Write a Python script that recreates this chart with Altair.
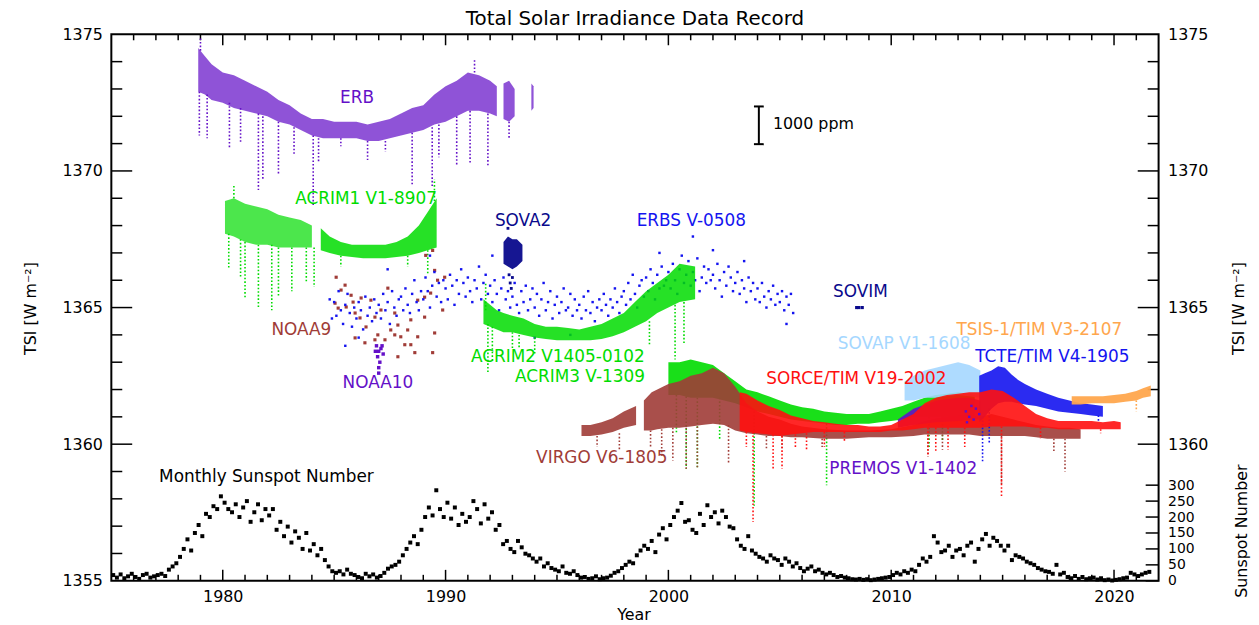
import altair as alt
import pandas as pd

# ---------------- Monthly sunspot number (sampled every 2 months, 1975.0 -> 2021.6) ----------------
sunspot = [
    18, 10, 20, 8, 14, 22,        # 1975
    12, 6, 18, 22, 10, 14,        # 1976
    18, 22, 15, 35, 45, 55,       # 1977
    75, 100, 130, 95, 150, 175,   # 1978
    140, 210, 200, 234, 225, 265, # 1979
    245, 225, 215, 240, 200, 230, # 1980
    250, 185, 215, 240, 190, 225, # 1981
    205, 225, 160, 185, 140, 170, # 1982
    120, 155, 135, 100, 150, 95,  # 1983
    115, 80, 100, 65, 45, 30,     # 1984
    25, 30, 20, 35, 22, 18,       # 1985
    12, 8, 22, 14, 20, 10,        # 1986
    15, 25, 38, 45, 50, 60,       # 1987
    80, 100, 120, 140, 115, 160,  # 1988
    200, 230, 205, 284, 225, 200, # 1989
    245, 195, 230, 175, 210, 185, # 1990
    200, 250, 225, 180, 240, 195, # 1991
    215, 160, 175, 115, 125, 100, # 1992
    90, 125, 105, 85, 80, 70,     # 1993
    60, 70, 45, 55, 40, 35,       # 1994
    30, 45, 25, 22, 30, 18,       # 1995
    10, 12, 6, 8, 14, 5,          # 1996
    8, 10, 16, 25, 30, 40,        # 1997
    50, 60, 55, 80, 95, 110,      # 1998
    100, 125, 90, 145, 165, 130,  # 1999
    175, 200, 220, 244, 185, 190, # 2000
    160, 150, 210, 175, 237, 200, # 2001
    215, 180, 220, 200, 170, 165, # 2002
    130, 110, 100, 140, 95, 85,   # 2003
    75, 70, 60, 80, 70, 65,       # 2004
    50, 70, 60, 45, 55, 40,       # 2005
    30, 38, 45, 30, 35, 25,       # 2006
    20, 25, 18, 12, 15, 10,       # 2007
    8, 5, 4, 6, 3, 5,             # 2008
    2, 4, 6, 8, 10, 12,           # 2009
    18, 25, 20, 30, 25, 35,       # 2010
    30, 50, 70, 60, 75, 140,      # 2011
    120, 90, 95, 110, 75, 95,     # 2012
    100, 80, 110, 120, 60, 100,   # 2013
    130, 147, 110, 135, 125, 110, # 2014
    95, 110, 65, 80, 75, 70,      # 2015
    60, 55, 50, 40, 35, 30,       # 2016
    28, 22, 50, 20, 25, 12,       # 2017
    8, 15, 6, 12, 5, 8,           # 2018
    10, 4, 8, 2, 4, 1,            # 2019
    3, 5, 8, 10, 25, 20,          # 2020
    15, 20, 25, 28,               # 2021
]
sunspot_t = [1975 + (i + 0.5) / 6 for i in range(len(sunspot))]

# ---------------- TSI instrument records: core envelopes (year, low, high) ----------------
erb1_t = [1978.9, 1979.2, 1979.5, 1980.0, 1980.5, 1981.0, 1981.5, 1982.0, 1982.5, 1983.0,
          1983.5, 1984.0, 1984.5, 1985.0, 1985.5, 1986.0, 1986.5, 1987.0, 1987.5, 1988.0,
          1988.5, 1989.0, 1989.5, 1990.0, 1990.5, 1991.0, 1991.5, 1992.0, 1992.3]
erb1_hi = [1374.5, 1374.2, 1373.9, 1373.6, 1373.5, 1373.3, 1373.1, 1372.9, 1372.6, 1372.4,
           1372.1, 1371.9, 1371.9, 1371.8, 1371.8, 1371.8, 1371.7, 1371.8, 1371.9, 1372.1,
           1372.3, 1372.4, 1372.8, 1373.1, 1373.3, 1373.6, 1373.5, 1373.3, 1373.1]
erb1_lo = [1372.9, 1372.8, 1372.6, 1372.5, 1372.3, 1372.2, 1372.1, 1372.0, 1371.8, 1371.7,
           1371.5, 1371.3, 1371.2, 1371.2, 1371.2, 1371.2, 1371.1, 1371.1, 1371.2, 1371.3,
           1371.4, 1371.5, 1371.7, 1371.8, 1372.0, 1372.2, 1372.2, 1372.1, 1372.0]
erb2_t = [1992.6, 1992.85, 1993.1]
erb2_hi = [1373.2, 1373.3, 1373.0]
erb2_lo = [1371.9, 1371.8, 1372.0]
erb3_t = [1993.85, 1993.95]
erb3_hi = [1373.2, 1373.1]
erb3_lo = [1372.2, 1372.3]
erb_dips = [(1978.95, 1372.9, 1371.3), (1979.3, 1372.8, 1371.2), (1980.3, 1372.5, 1370.8),
            (1980.8, 1372.3, 1371.0), (1981.6, 1372.1, 1369.3), (1981.8, 1372.0, 1369.7),
            (1982.5, 1371.8, 1369.9), (1983.2, 1371.6, 1370.6), (1984.06, 1371.3, 1368.7),
            (1984.3, 1371.2, 1370.3), (1985.3, 1371.2, 1370.9), (1986.5, 1371.1, 1370.4),
            (1987.3, 1371.1, 1370.7), (1988.5, 1371.4, 1369.5), (1989.4, 1371.6, 1369.4),
            (1989.7, 1371.7, 1370.5), (1990.5, 1372.0, 1370.2), (1991.1, 1372.2, 1370.3),
            (1991.9, 1372.1, 1370.2), (1992.85, 1371.8, 1371.2), (1979.0, 1374.4, 1374.9),
            (1991.3, 1373.6, 1374.1)]

acrim1a_t = [1980.1, 1980.5, 1981.0, 1981.5, 1982.0, 1982.5, 1983.0, 1983.5, 1984.0]
acrim1a_hi = [1368.9, 1369.0, 1368.8, 1368.7, 1368.6, 1368.4, 1368.3, 1368.2, 1368.0]
acrim1a_lo = [1367.7, 1367.6, 1367.4, 1367.3, 1367.3, 1367.2, 1367.2, 1367.2, 1367.2]
acrim1b_t = [1984.4, 1984.8, 1985.3, 1985.8, 1986.3, 1986.8, 1987.3, 1987.8, 1988.3, 1988.8, 1989.2, 1989.6]
acrim1b_hi = [1367.9, 1367.6, 1367.4, 1367.3, 1367.3, 1367.3, 1367.3, 1367.4, 1367.6, 1368.0, 1368.5, 1369.0]
acrim1b_lo = [1367.1, 1367.0, 1366.9, 1366.85, 1366.8, 1366.8, 1366.8, 1366.85, 1366.9, 1367.0, 1367.1, 1367.2]
acrim1_dips = [(1980.27, 1367.7, 1366.4), (1980.8, 1367.5, 1366.1), (1981.0, 1367.4, 1365.3),
               (1981.6, 1367.3, 1365.0), (1982.2, 1367.3, 1364.9), (1982.5, 1367.2, 1365.4),
               (1983.1, 1367.2, 1365.6), (1983.75, 1367.2, 1365.9), (1984.1, 1367.2, 1365.75),
               (1985.3, 1366.9, 1366.5), (1988.3, 1366.9, 1366.5), (1989.2, 1367.1, 1366.2),
               (1980.5, 1369.0, 1369.5), (1989.5, 1368.9, 1369.7)]

noaa9_t = [1985.09, 1985.49, 1985.31, 1985.76, 1985.04, 1985.18, 1985.54, 1985.85, 1986.21, 1986.65,
           1985.94, 1986.16, 1986.43, 1986.83, 1987.10, 1987.41, 1987.72, 1987.86, 1987.54, 1987.72,
           1987.99, 1988.30, 1988.44, 1988.75, 1989.06, 1989.33, 1989.64, 1989.96, 1989.51, 1989.11,
           1989.42, 1989.87, 1989.06, 1989.51, 1988.44, 1988.62, 1989.42, 1986.96, 1986.83, 1986.38,
           1985.94, 1987.28, 1988.17, 1988.75, 1987.86]
noaa9_v = [1366.11, 1365.82, 1365.64, 1365.45, 1365.16, 1364.98, 1365.02, 1365.20, 1365.35, 1365.27,
           1364.80, 1364.62, 1364.29, 1364.65, 1364.91, 1365.71, 1364.80, 1364.36, 1364.18, 1364.00,
           1363.93, 1364.18, 1364.55, 1365.27, 1365.38, 1365.53, 1366.00, 1366.11, 1366.36, 1366.91,
           1367.09, 1364.91, 1364.65, 1364.07, 1363.64, 1363.35, 1363.35, 1364.00, 1363.82, 1363.71,
           1363.89, 1363.82, 1363.64, 1363.93, 1363.20]

noaa10_t = [1986.9, 1987.0, 1987.1, 1987.2, 1986.95, 1987.05, 1987.0, 1987.0, 1987.15, 1986.85]
noaa10_v = [1363.6, 1363.4, 1363.5, 1363.3, 1363.2, 1363.0, 1362.8, 1362.6, 1363.6, 1363.4]

# ERBS: samples every 0.1 yr starting 1984.8
erbs_start = 1984.8
erbs_v = [
    1365.3, 1364.6,
    1365.2, 1364.7, 1365.6, 1364.9, 1364.4, 1365.1, 1365.5, 1364.8, 1364.3, 1365.0,
    1364.6, 1365.2, 1364.9, 1364.2, 1365.4, 1364.7, 1365.0, 1364.5, 1365.3, 1364.8,
    1365.1, 1364.6, 1365.5, 1364.9, 1365.2, 1364.4, 1365.6, 1365.0, 1364.7, 1365.3,
    1365.4, 1364.9, 1365.7, 1365.1, 1364.8, 1365.5, 1366.0, 1365.2, 1364.9, 1365.6,
    1365.3, 1366.1, 1365.6, 1365.0, 1365.8, 1366.3, 1365.4, 1365.9, 1365.2, 1366.0,
    1365.7, 1365.3, 1366.2, 1365.8, 1365.1, 1366.0, 1365.5, 1366.4, 1365.9, 1365.4,
    1366.1, 1365.6, 1365.2, 1366.0, 1365.7, 1366.5, 1365.3, 1365.9, 1366.2, 1365.5,
    1365.8, 1365.2, 1366.0, 1365.5, 1364.9, 1365.7, 1366.1, 1365.3, 1365.6, 1365.0,
    1365.4, 1365.9, 1365.1, 1364.8, 1365.6, 1365.2, 1365.8, 1364.9, 1365.3, 1365.7,
    1365.0, 1365.5, 1364.7, 1365.3, 1365.9, 1364.9, 1365.2, 1365.6, 1364.6, 1365.1,
    1365.4, 1364.8, 1365.2, 1365.7, 1364.9, 1365.0, 1365.5, 1364.7, 1365.3, 1364.9,
    1365.1, 1364.6, 1365.4, 1364.9, 1365.6, 1364.8, 1365.2, 1364.5, 1365.0, 1365.3,
    1364.9, 1365.5, 1365.1, 1364.7, 1365.3, 1365.0, 1365.7, 1365.2, 1364.8, 1365.4,
    1365.6, 1365.1, 1365.9, 1365.3, 1366.2, 1365.5, 1365.0, 1365.8, 1366.0, 1365.4,
    1366.1, 1365.6, 1366.4, 1365.9, 1365.3, 1366.2, 1365.7, 1366.5, 1365.8, 1366.0,
    1366.3, 1365.7, 1366.6, 1366.0, 1365.5, 1366.4, 1366.9, 1365.9, 1366.2, 1366.7,
    1365.8, 1366.3, 1366.0, 1366.8, 1365.6, 1366.1, 1366.5, 1365.9, 1366.4, 1366.0,
    1366.2, 1365.7, 1366.6, 1366.0, 1365.4, 1366.3, 1365.8, 1366.5, 1366.1, 1365.6,
    1365.9, 1366.3, 1365.5, 1366.0, 1365.7, 1365.2, 1366.1, 1365.6, 1365.9, 1365.3,
    1365.7, 1365.2, 1365.9, 1365.4, 1365.0, 1365.6, 1365.3, 1365.8, 1365.1, 1365.5,
    1365.2, 1365.6, 1364.9, 1365.4, 1365.1, 1365.5, 1364.8,
]
erbs_t = [round(erbs_start + 0.1 * i, 2) for i in range(len(erbs_v))]
erbs_x_t = [1985.5, 1986.1, 1989.3, 1992.1, 2001.1, 2002.0, 1994.0, 1995.6, 1987.4, 2003.4, 2005.3, 1999.6]
erbs_x_v = [1363.6, 1363.9, 1366.9, 1366.9, 1367.6, 1367.1, 1363.9, 1364.0, 1366.4, 1366.7, 1364.4, 1367.0]

sova2_t = [1992.6, 1992.8, 1993.0, 1993.2, 1993.45]
sova2_hi = [1367.4, 1367.6, 1367.5, 1367.5, 1367.3]
sova2_lo = [1366.6, 1366.5, 1366.4, 1366.5, 1366.7]
sova2_x_t = [1992.85, 1992.9, 1992.95, 1993.0, 1992.8]
sova2_x_v = [1366.2, 1365.9, 1365.7, 1366.1, 1367.9]

acrim2_t = [1991.7, 1992.0, 1992.3, 1992.6, 1993.0, 1993.5, 1994.0, 1994.5, 1995.0, 1995.5, 1996.0,
            1996.5, 1997.0, 1997.5, 1998.0, 1998.5, 1999.0, 1999.5, 2000.0, 2000.5, 2001.2]
acrim2_hi = [1365.3, 1365.1, 1364.9, 1364.8, 1364.7, 1364.6, 1364.4, 1364.3, 1364.3, 1364.25, 1364.2,
             1364.3, 1364.4, 1364.6, 1364.8, 1365.2, 1365.6, 1365.9, 1366.2, 1366.6, 1366.5]
acrim2_lo = [1364.4, 1364.3, 1364.2, 1364.1, 1364.1, 1364.0, 1363.9, 1363.85, 1363.8, 1363.8, 1363.8,
             1363.8, 1363.85, 1363.95, 1364.1, 1364.3, 1364.5, 1364.8, 1365.0, 1365.2, 1365.3]
acrim2_dips = [(1991.9, 1364.4, 1362.6), (1991.8, 1364.9, 1365.9), (1992.1, 1364.3, 1363.0),
               (1993.0, 1364.1, 1363.45), (1993.3, 1364.0, 1363.5), (1994.0, 1363.9, 1363.3),
               (1999.15, 1364.5, 1363.6), (2000.3, 1365.1, 1363.1), (2000.7, 1365.2, 1363.7)]

acrim3_t = [2000.0, 2000.5, 2001.0, 2001.5, 2002.0, 2002.5, 2003.0, 2003.5, 2004.0, 2004.5,
            2005.0, 2005.5, 2006.0, 2006.5, 2007.0, 2007.5, 2008.0, 2008.5, 2009.0, 2009.5,
            2010.0, 2010.5, 2011.0, 2011.5, 2012.0, 2012.5, 2013.0, 2013.5, 2013.75]
acrim3_hi = [1363.0, 1363.0, 1363.1, 1363.0, 1362.9, 1362.6, 1362.3, 1362.0, 1361.9, 1361.75,
             1361.6, 1361.45, 1361.35, 1361.3, 1361.2, 1361.15, 1361.1, 1361.1, 1361.1, 1361.2,
             1361.3, 1361.4, 1361.55, 1361.7, 1361.8, 1361.85, 1361.9, 1361.85, 1361.8]
acrim3_lo = [1361.8, 1361.8, 1361.7, 1361.7, 1361.7, 1361.6, 1361.5, 1361.35, 1361.2, 1361.1,
             1361.0, 1360.9, 1360.85, 1360.8, 1360.75, 1360.7, 1360.7, 1360.75, 1360.75, 1360.8,
             1360.85, 1360.9, 1361.0, 1361.0, 1361.0, 1361.0, 1360.95, 1360.9, 1360.9]
acrim3_dips = [(2000.36, 1361.8, 1360.4), (2000.8, 1361.75, 1359.1), (2001.3, 1361.7, 1359.1),
               (2003.85, 1361.2, 1357.75), (2002.3, 1361.7, 1360.2), (2011.7, 1361.0, 1359.9),
               (2012.3, 1361.0, 1360.1), (2007.1, 1360.75, 1358.5)]

virgo1_t = [1996.1, 1996.5, 1997.0, 1997.5, 1998.0, 1998.55]
virgo1_hi = [1360.7, 1360.7, 1360.8, 1360.95, 1361.2, 1361.4]
virgo1_lo = [1360.3, 1360.3, 1360.35, 1360.45, 1360.6, 1360.7]
virgo2_t = [1998.9, 1999.25, 1999.5, 2000.0, 2000.5, 2001.0, 2001.5, 2002.0, 2002.5, 2003.0,
            2003.5, 2004.0, 2004.5, 2005.0, 2005.5, 2006.0, 2007.0, 2008.0, 2009.0, 2010.0,
            2011.0, 2011.5, 2012.0, 2012.5, 2013.0, 2013.5, 2014.0, 2014.5, 2015.0, 2015.5,
            2016.0, 2016.5, 2017.0, 2017.5, 2018.0, 2018.5]
virgo2_hi = [1361.6, 1361.9, 1362.0, 1362.2, 1362.3, 1362.5, 1362.6, 1362.8, 1362.6, 1362.1,
             1361.5, 1361.2, 1361.0, 1360.9, 1360.75, 1360.65, 1360.55, 1360.5, 1360.5, 1360.55,
             1360.7, 1360.85, 1360.95, 1361.0, 1361.05, 1361.05, 1361.0, 1361.1, 1361.0, 1360.9,
             1360.8, 1360.7, 1360.65, 1360.6, 1360.6, 1360.55]
virgo2_lo = [1360.5, 1360.5, 1360.55, 1360.6, 1360.6, 1360.65, 1360.7, 1360.75, 1360.7, 1360.5,
             1360.4, 1360.35, 1360.3, 1360.3, 1360.25, 1360.25, 1360.2, 1360.2, 1360.25, 1360.25,
             1360.3, 1360.35, 1360.35, 1360.35, 1360.35, 1360.35, 1360.3, 1360.3, 1360.3, 1360.3,
             1360.3, 1360.25, 1360.2, 1360.2, 1360.2, 1360.2]
virgo_dips = [(1996.8, 1360.3, 1359.9), (1997.8, 1360.4, 1359.8), (1999.2, 1360.5, 1359.9),
              (1999.7, 1360.55, 1359.55), (2000.2, 1360.6, 1359.4), (2000.8, 1360.6, 1359.1),
              (2001.3, 1360.65, 1359.1), (2002.7, 1360.7, 1359.3), (2004.4, 1360.3, 1359.8),
              (2005.1, 1360.3, 1359.8), (2006.9, 1360.2, 1359.9), (2011.65, 1360.35, 1359.55),
              (2012.3, 1360.35, 1359.8), (2014.95, 1360.3, 1358.5), (2017.3, 1360.2, 1359.7),
              (2017.8, 1360.2, 1359.0)]

sovap_t = [2010.6, 2011.0, 2011.5, 2012.0, 2012.5, 2013.0, 2013.5, 2014.0]
sovap_hi = [1362.3, 1362.5, 1362.7, 1362.8, 1362.9, 1363.0, 1362.9, 1362.7]
sovap_lo = [1361.6, 1361.6, 1361.7, 1361.7, 1361.75, 1361.8, 1361.75, 1361.7]

premos_t = [2010.3, 2011.0, 2012.0, 2013.0, 2013.5, 2014.0]
premos_hi = [1360.9, 1361.3, 1361.6, 1361.7, 1361.7, 1361.6]
premos_lo = [1360.6, 1360.7, 1360.8, 1360.85, 1360.9, 1360.9]
premos_x_t = [2013.35, 2013.5, 2013.6, 2013.7, 2013.8, 2013.95, 2013.4]
premos_x_v = [1361.2, 1361.0, 1361.4, 1360.9, 1361.3, 1361.1, 1360.8]

tcte_t = [2013.95, 2014.2, 2014.5, 2014.8, 2015.1, 2015.4, 2015.7, 2016.0, 2016.5, 2017.0,
          2017.5, 2018.0, 2018.5, 2019.0, 2019.5]
tcte_hi = [1362.5, 1362.6, 1362.7, 1362.85, 1362.8, 1362.55, 1362.35, 1362.2, 1362.0, 1361.85,
           1361.7, 1361.6, 1361.5, 1361.45, 1361.4]
tcte_lo = [1360.8, 1361.0, 1361.3, 1361.5, 1361.55, 1361.55, 1361.5, 1361.45, 1361.4, 1361.3,
           1361.2, 1361.15, 1361.1, 1361.05, 1361.0]
tcte_dips = [(2014.1, 1361.0, 1359.3), (2014.4, 1361.3, 1360.0), (2019.3, 1361.05, 1360.85)]

sorce_t = [2003.2, 2003.5, 2004.0, 2004.5, 2005.0, 2005.5, 2006.0, 2006.5, 2007.0, 2007.5,
           2008.0, 2008.5, 2009.0, 2009.5, 2010.0, 2010.5, 2011.0, 2011.5, 2012.0, 2012.5,
           2013.0, 2013.5, 2014.0, 2014.5, 2015.0, 2015.5, 2016.0, 2016.5, 2017.0, 2017.5,
           2018.0, 2018.5, 2019.0, 2019.5, 2020.0, 2020.3]
sorce_hi = [1361.9, 1361.85, 1361.6, 1361.4, 1361.25, 1361.05, 1360.95, 1360.85, 1360.8, 1360.75,
            1360.7, 1360.7, 1360.65, 1360.65, 1360.7, 1360.9, 1361.1, 1361.5, 1361.7, 1361.8,
            1361.85, 1361.9, 1361.9, 1362.0, 1361.95, 1361.7, 1361.4, 1361.1, 1360.95, 1360.85,
            1360.85, 1360.85, 1360.85, 1360.8, 1360.85, 1360.8]
sorce_lo = [1360.5, 1360.45, 1360.4, 1360.35, 1360.3, 1360.35, 1360.4, 1360.45, 1360.45, 1360.45,
            1360.45, 1360.45, 1360.45, 1360.45, 1360.5, 1360.5, 1360.55, 1360.6, 1360.6, 1360.6,
            1360.6, 1360.6, 1360.6, 1360.65, 1360.65, 1360.65, 1360.65, 1360.6, 1360.6, 1360.55,
            1360.55, 1360.55, 1360.55, 1360.55, 1360.55, 1360.55]
sorce_dips = [(2003.8, 1360.45, 1357.15), (2003.5, 1360.45, 1359.9), (2004.7, 1360.35, 1359.1),
              (2005.1, 1360.3, 1359.1), (2005.7, 1360.35, 1359.9), (2006.2, 1360.4, 1359.8),
              (2007.0, 1360.45, 1359.9), (2007.9, 1360.45, 1360.1), (2011.65, 1360.6, 1359.55),
              (2012.0, 1360.6, 1359.7), (2012.55, 1360.6, 1359.8), (2013.3, 1360.6, 1359.9),
              (2014.95, 1360.65, 1358.1), (2016.7, 1360.6, 1360.2), (2019.4, 1360.55, 1360.4)]

tsis_t = [2018.1, 2018.5, 2019.0, 2019.5, 2020.0, 2020.5, 2021.0, 2021.3, 2021.65]
tsis_hi = [1361.75, 1361.75, 1361.75, 1361.75, 1361.8, 1361.85, 1361.95, 1362.05, 1362.15]
tsis_lo = [1361.45, 1361.45, 1361.5, 1361.5, 1361.5, 1361.55, 1361.6, 1361.7, 1361.75]
tsis_dips = [(2021.0, 1361.6, 1361.2)]

sovim_t = [2008.45, 2008.55, 2008.7]
sovim_v = [1365.0, 1365.0, 1365.0]

# ---------------- styling ----------------
PURPLE = "#6410C8"
GREEN = "#00DC00"
BROWN = "#A03C37"
NAVY = "#0A0A8C"
BLUE = "#1414F0"
LIGHTBLUE = "#A5D7FF"
ORANGE = "#FFA64D"
RED = "#FF1010"
FONT = "DejaVu Sans"
W, H = 1054, 550

xsc = alt.Scale(domain=[1975, 2022], nice=False, zero=False)
ysc = alt.Scale(domain=[1355, 1375], nice=False, zero=False)
ssc = alt.Scale(domain=[0, 300 * 20 / 3.5], nice=False, zero=False)


def X(f, axis=None):
    return alt.X(f + ":Q", scale=xsc, axis=axis)


def Y(f, scale=ysc, axis=None):
    return alt.Y(f + ":Q", scale=scale, axis=axis)


def band(t, lo, hi, color, opacity=0.85):
    df = pd.DataFrame({"t": t, "lo": lo, "hi": hi})
    return alt.Chart(df).mark_area(color=color, opacity=opacity).encode(
        x=X("t"), y=Y("lo"), y2=alt.Y2("hi"))


def dips(trip, color):
    df = pd.DataFrame(trip, columns=["t", "a", "b"])
    return alt.Chart(df).mark_rule(color=color, strokeWidth=1.6, strokeDash=[1.6, 2.0]).encode(
        x=X("t"), y=Y("a"), y2=alt.Y2("b"))


def dots(t, v, color, size=8):
    df = pd.DataFrame({"t": t, "v": v})
    return alt.Chart(df).mark_square(color=color, size=size, opacity=1).encode(
        x=X("t"), y=Y("v"))


def vticks(vals, y0, y1, axis=None):
    df = pd.DataFrame({"v": vals})
    return alt.Chart(df).mark_rule(color="black", strokeWidth=1.5).encode(
        x=X("v", axis=axis), y=alt.value(y0), y2=alt.value(y1))


def hticks(vals, x0, x1, scale=ysc, axis=None):
    df = pd.DataFrame({"v": vals})
    return alt.Chart(df).mark_rule(color="black", strokeWidth=1.5).encode(
        y=Y("v", scale=scale, axis=axis), x=alt.value(x0), x2=alt.value(x1))


def ptext(txt, px, py, size, angle=0, baseline="middle"):
    return alt.Chart(pd.DataFrame({"s": [txt]})).mark_text(
        text=txt, font=FONT, fontSize=size, angle=angle, align="center",
        baseline=baseline, color="black").encode(x=alt.value(px), y=alt.value(py))


axis_common = dict(ticks=False, domain=False, grid=False, title=None, labelFont=FONT,
                   labelColor="black", labelFlush=False, labelOverlap=False)

major_years = [1980, 1990, 2000, 2010, 2020]
minor_years = [y for y in range(1976, 2022) if y % 10]
tsi_major = [1360, 1365, 1370]
tsi_minor_left = [v for v in range(1356, 1375) if v % 5]
tsi_minor_right = [v for v in range(1361, 1375) if v % 5]
ss_ticks = [0, 50, 100, 150, 200, 250, 300]
right_vals = [1360, 1365, 1370, 1375] + [1355 + s * 3.5 / 300 for s in ss_ticks]

layers = [
    # frame ticks (inward) and axis labels
    vticks(major_years, H, H - 11, axis=alt.Axis(orient="bottom", values=major_years, format="d",
                                                  labelPadding=8, labelFontSize=16, **axis_common)),
    vticks(minor_years, H, H - 6),
    vticks(major_years, 0, 11),
    vticks(minor_years, 0, 6),
    hticks(tsi_major, 0, 21, axis=alt.Axis(orient="left", values=[1355, 1360, 1365, 1370, 1375],
                                            format="d", labelPadding=9, labelFontSize=16, **axis_common)),
    hticks(tsi_minor_left, 0, 11),
    hticks(tsi_major, W, W - 21, axis=alt.Axis(
        orient="right", values=right_vals, labelPadding=9,
        labelFontSize={"condition": {"test": "datum.value < 1359", "value": 14}, "value": 16},
        labelExpr="datum.value < 1359 ? format((datum.value - 1355) * 300 / 3.5, '.0f') : format(datum.value, '.0f')",
        **axis_common)),
    hticks(tsi_minor_right, W, W - 11),
    hticks(ss_ticks, W, W - 13, scale=ssc),

    # ERB
    band(erb1_t, erb1_lo, erb1_hi, PURPLE, 0.72),
    band(erb2_t, erb2_lo, erb2_hi, PURPLE, 0.72),
    band(erb3_t, erb3_lo, erb3_hi, PURPLE, 0.72),
    dips(erb_dips, PURPLE),
    # ACRIM1
    band(acrim1a_t, acrim1a_lo, acrim1a_hi, GREEN, 0.7),
    band(acrim1b_t, acrim1b_lo, acrim1b_hi, GREEN, 0.85),
    dips(acrim1_dips, GREEN),
    # NOAA9, ERBS, NOAA10
    dots(noaa9_t, noaa9_v, BROWN, 10),
    dots(erbs_t, erbs_v, BLUE, 6),
    dots(erbs_x_t, erbs_x_v, BLUE, 6),
    dots(noaa10_t, noaa10_v, PURPLE, 12),
    # SOVA2
    band(sova2_t, sova2_lo, sova2_hi, NAVY, 0.95),
    dots(sova2_x_t, sova2_x_v, NAVY, 8),
    # ACRIM2 / ACRIM3
    band(acrim2_t, acrim2_lo, acrim2_hi, GREEN, 0.85),
    dips(acrim2_dips, GREEN),
    band(acrim3_t, acrim3_lo, acrim3_hi, GREEN, 0.9),
    dips(acrim3_dips, GREEN),
    # VIRGO
    band(virgo1_t, virgo1_lo, virgo1_hi, BROWN, 0.9),
    band(virgo2_t, virgo2_lo, virgo2_hi, BROWN, 0.9),
    dips(virgo_dips, BROWN),
    # SOVAP, PREMOS, TCTE, SORCE, TSIS, SOVIM
    band(sovap_t, sovap_lo, sovap_hi, LIGHTBLUE, 0.9),
    band(premos_t, premos_lo, premos_hi, PURPLE, 0.9),
    band(tcte_t, tcte_lo, tcte_hi, BLUE, 0.9),
    dips(tcte_dips, BLUE),
    band(sorce_t, sorce_lo, sorce_hi, RED, 0.9),
    dips(sorce_dips, RED),
    dots(premos_x_t, premos_x_v, PURPLE, 6),
    band(tsis_t, tsis_lo, tsis_hi, ORANGE, 0.95),
    dips(tsis_dips, ORANGE),
    dots(sovim_t, sovim_v, NAVY, 10),

    # sunspot number
    alt.Chart(pd.DataFrame({"t": sunspot_t, "s": sunspot})).mark_square(
        color="black", size=16, opacity=1).encode(x=X("t"), y=Y("s", scale=ssc)),
]

# instrument labels (year, TSI anchor)
lab_text = ["ERB", "ACRIM1 V1-8907", "SOVA2", "ERBS V-0508", "SOVIM", "NOAA9", "NOAA10",
            "ACRIM2 V1405-0102", "ACRIM3 V-1309", "SOVAP V1-1608", "TSIS-1/TIM V3-2107",
            "TCTE/TIM V4-1905", "SORCE/TIM V19-2002", "VIRGO V6-1805", "PREMOS V1-1402",
            "Monthly Sunspot Number"]
lab_color = [PURPLE, GREEN, NAVY, BLUE, NAVY, BROWN, PURPLE, GREEN, GREEN, LIGHTBLUE, ORANGE,
             BLUE, RED, BROWN, PURPLE, "black"]
lab_x = [1986.03, 1986.43, 1993.48, 2001.03, 2008.62, 1983.53, 1986.96, 1995.04, 1996.03,
         2010.58, 2016.65, 2017.23, 2008.44, 1997.01, 2010.54, 1981.96]
lab_y = [1372.65, 1368.98, 1368.15, 1368.15, 1365.56, 1364.18, 1362.25, 1363.2, 1362.47,
         1363.67, 1364.18, 1363.2, 1362.4, 1359.49, 1359.09, 1358.8]
labels = pd.DataFrame({"txt": lab_text, "c": lab_color, "t": lab_x, "v": lab_y})
layers.append(alt.Chart(labels).mark_text(font=FONT, fontSize=17, align="center", baseline="middle").encode(
    x=X("t"), y=Y("v"), text="txt:N", color=alt.Color("c:N", scale=None)))

# 1000 ppm scale bar
bar = pd.DataFrame({"t": [2004.06, 2003.84, 2003.84], "t2": [2004.06, 2004.28, 2004.28],
                    "a": [1370.98, 1370.98, 1372.36], "b": [1372.36, 1370.98, 1372.36]})
layers.append(alt.Chart(bar).mark_rule(color="black", strokeWidth=2).encode(
    x=X("t"), x2=alt.X2("t2"), y=Y("a"), y2=alt.Y2("b")))
layers.append(alt.Chart(pd.DataFrame({"t": [2004.69], "v": [1371.71], "s": ["1000 ppm"]})).mark_text(
    font=FONT, fontSize=16, align="left", baseline="middle", color="black").encode(
    x=X("t"), y=Y("v"), text="s:N"))

# titles
layers += [
    ptext("Total Solar Irradiance Data Record", 527, -15, 20),
    ptext("TSI [W m\u207b\u00b2]", -81, 276, 16, angle=270),
    ptext("TSI [W m\u207b\u00b2]", 1135, 276, 16, angle=270),
    ptext("Sunspot Number", 1138, 500, 16, angle=270),
    ptext("Year", 526, 589, 16, baseline="alphabetic"),
]

chart = alt.layer(*layers).resolve_scale(y="independent").resolve_axis(
    x="independent", y="independent").properties(
    width=W, height=H,
    autosize=alt.AutoSizeParams(type="none"),
    padding={"left": 104, "top": 24.5, "right": 93, "bottom": 42.5},
).configure(background="white").configure_view(stroke="black", strokeWidth=2)

chart.save("out.html", embed_options={"renderer": "svg", "actions": False})
